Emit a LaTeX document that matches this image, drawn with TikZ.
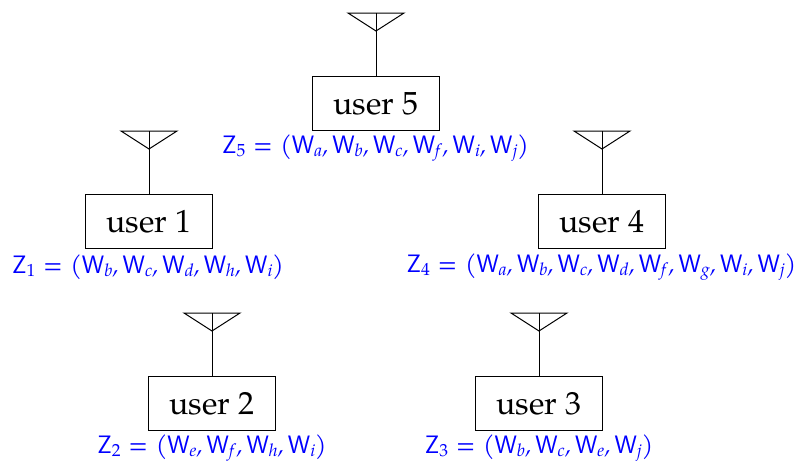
\documentclass[tikz,border=0pt]{standalone}
\usepackage{fontspec}
\setmainfont{TeX Gyre Pagella}
\setsansfont{Latin Modern Sans}
\tikzset{
 userbox/.style={draw,line width=1pt,minimum width=127pt,minimum height=54pt,inner sep=0pt,font=\fontsize{32}{32}\selectfont},
 zlabel/.style={text=blue,inner sep=0pt,font=\fontsize{25.2}{26}\selectfont},
 ant/.style={line width=1pt}
}
\newcommand{\Wv}[1]{\textsf{W}\raisebox{-3.5pt}{\fontsize{17.5}{18}\selectfont\itshape #1\/}}
\newcommand{\Zv}[1]{\textsf{Z}\raisebox{-3.5pt}{\fontsize{17.5}{18}\selectfont #1}}
\newcommand{\Cm}{\textit{,}\kern4pt}
\newcommand{\Eq}{\kern8pt=\kern8pt}
\begin{document}
\begin{tikzpicture}[x=1pt,y=-1pt]
\useasboundingbox (0,0) rectangle (795,461);
\foreach \n/\cx/\cy/\tx in {5/376/103.5/user 5,1/149/221.5/user 1,4/602/221.5/user 4,2/212/403.5/user 2,3/539/403.5/user 3}{
 \node[userbox] (u\n) at (\cx,\cy) {\raisebox{-1.5pt}{\tx}};
 \coordinate (t\n) at (\cx,\cy-72.5);
 \coordinate (a\n) at (\cx,\cy-90.5);
 \coordinate (tl\n) at (\cx-28,\cy-90.5);
 \coordinate (tr\n) at (\cx+28,\cy-90.5);
 \draw[ant] (u\n.north) -- (a\n);
 \draw[ant] (t\n) -- (tl\n) -- (tr\n) -- cycle;
}
\node[zlabel] (z5) at (375.5,148) {\Zv{5}\Eq(\Wv{a}\Cm\Wv{b}\Cm\Wv{c}\Cm\Wv{f}\Cm\Wv{i}\Cm\Wv{j})};
\node[zlabel] (z1) at (148,267) {\Zv{1}\Eq(\Wv{b}\Cm\Wv{c}\Cm\Wv{d}\Cm\Wv{h}\Cm\Wv{i})};
\node[zlabel] (z4) at (601.5,267) {\Zv{4}\Eq(\Wv{a}\Cm\Wv{b}\Cm\Wv{c}\Cm\Wv{d}\Cm\Wv{f}\Cm\Wv{g}\Cm\Wv{i}\Cm\Wv{j})};
\node[zlabel] (z2) at (212,448) {\Zv{2}\Eq(\Wv{e}\Cm\Wv{f}\Cm\Wv{h}\Cm\Wv{i})};
\node[zlabel] (z3) at (539,448) {\Zv{3}\Eq(\Wv{b}\Cm\Wv{c}\Cm\Wv{e}\Cm\Wv{j})};
\end{tikzpicture}
\end{document}
